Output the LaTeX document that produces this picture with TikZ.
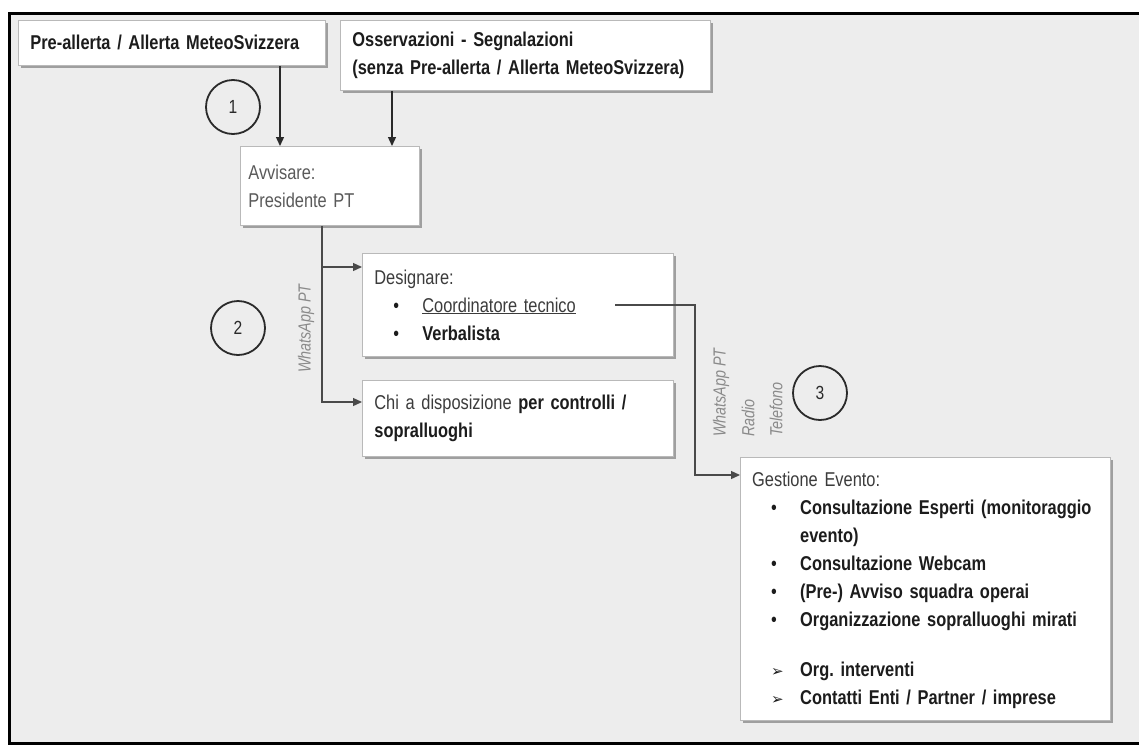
\documentclass[tikz,border=0pt]{standalone}
\usepackage{fontspec}
\setmainfont{Liberation Sans}[FakeStretch=0.82]
\newfontfamily\symfont{DejaVu Sans}
\usetikzlibrary{shadows,arrows.meta}
\definecolor{bgc}{HTML}{EDEDED}
\definecolor{txt}{HTML}{1C1C1C}
\definecolor{gtxt}{HTML}{3C3C3C}
\definecolor{ltxt}{HTML}{5A5A5A}
\definecolor{lbl}{HTML}{8A8A8A}
\definecolor{lnc}{HTML}{2A2A2A}
\definecolor{glnc}{HTML}{4A4A4A}
\newcommand{\bul}{\hspace*{19pt}\makebox[29pt][l]{\textbullet}}
\newcommand{\arw}{\hspace*{19pt}\makebox[29pt][l]{{\symfont\fontsize{15}{15}\selectfont ➢}}}
\tikzset{
  box/.style={draw=gray!55, fill=white, line width=0.8pt, anchor=north west,
    align=left, inner xsep=12pt, inner ysep=4pt,
    font=\fontsize{20}{28}\selectfont\frenchspacing, text=txt,
    general shadow={fill=gray!75, shadow xshift=3pt, shadow yshift=-3pt}},
  btext/.style={anchor=north west, align=left, inner sep=0pt,
    font=\fontsize{20}{28}\selectfont\frenchspacing, text=txt},
  numc/.style={circle, draw=lnc, line width=1.8pt, minimum size=54pt, inner sep=0pt,
    font=\fontsize{19}{19}\selectfont, text=lnc},
  lab/.style={rotate=90, anchor=west, inner sep=0pt, text=lbl,
    font=\fontsize{17.5}{17.5}\selectfont\itshape},
  arr/.style={draw=lnc, line width=1.3pt, -{Triangle[length=9pt,width=8pt]}},
  garr/.style={draw=glnc, line width=1.3pt, -{Triangle[length=9pt,width=8pt]}}
}
\begin{document}
\begin{tikzpicture}[x=1pt,y=-1pt]
\useasboundingbox (0,0) rectangle (1139,747);
\fill[white] (0,0) rectangle (1139,747);
\fill[bgc] (9,13) rectangle (1139,743);
\draw[line width=3pt, black] (1139,13) -- (9,13) -- (9,743) -- (1139,743);

% boxes
\node[box, minimum width=307pt, minimum height=45pt, text width=283pt] (A) at (18,20)
  {\bfseries Pre-allerta / Allerta MeteoSvizzera};
\node[box, minimum width=370pt, minimum height=70pt, text width=346pt] (B) at (340,20)
  {\bfseries Osservazioni - Segnalazioni\\ \bfseries (senza Pre-allerta / Allerta MeteoSvizzera)};
\node[box, minimum width=179pt, minimum height=79pt, text width=163pt, inner xsep=8pt, text=ltxt] (C) at (240,146)
  {Avvisare:\\ Presidente PT};
\node[box, minimum width=311pt, minimum height=103pt, text width=287pt] (D) at (362,253)
  {\textcolor{gtxt}{Designare:}\\
   \bul\textcolor{gtxt}{\underline{Coordinatore tecnico}}\\
   \bul\textbf{Verbalista}};
\node[box, minimum width=311pt, minimum height=76pt, text width=287pt] (E) at (362,380)
  {\textcolor{gtxt}{Chi a disposizione} \textbf{per controlli /}\\ \textbf{sopralluoghi}};
\node[box, minimum width=370pt, minimum height=263pt, text width=346pt] (F) at (740,457) {};
\node[btext, text width=346pt] (Ft) at (752,472)
  {\textcolor{gtxt}{Gestione Evento:}\\
   \bul\textbf{Consultazione Esperti (monitoraggio}\\
   \hspace*{48pt}\textbf{evento)}\\
   \bul\textbf{Consultazione Webcam}\\
   \bul\textbf{(Pre-) Avviso squadra operai}\\
   \bul\textbf{Organizzazione sopralluoghi mirati}\\[22pt]
   \arw\textbf{Org. interventi}\\
   \arw\textbf{Contatti Enti / Partner / imprese}};

% numbered circles
\node[numc] (n1) at (233,107) {1};
\node[numc] (n2) at (238,328) {2};
\node[numc] (n3) at (820,393) {3};

% labels
\node[lab] (l2) at (306,373) {WhatsApp PT};
\node[lab] (l3a) at (721,437) {WhatsApp PT};
\node[lab] (l3b) at (748,437) {Radio};
\node[lab] (l3c) at (776,437) {Telefono};

% connectors
\coordinate (xa) at (280,0);
\coordinate (xb) at (392,0);
\draw[arr] (A.south -| xa) -- (C.north -| xa);
\draw[arr] (B.south -| xb) -- (C.north -| xb);

\coordinate (bd) at (322,267);
\coordinate (be) at (322,402);
\draw[garr] (C.south -| bd) -- (be) -- (be -| E.west);
\draw[garr] (bd) -- (bd -| D.west);

\coordinate (cs) at (615,305);
\coordinate (cv) at (695,475);
\draw[garr] (cs) -- (cs -| cv) -- (cv) -- (cv -| F.west);
\end{tikzpicture}
\end{document}
